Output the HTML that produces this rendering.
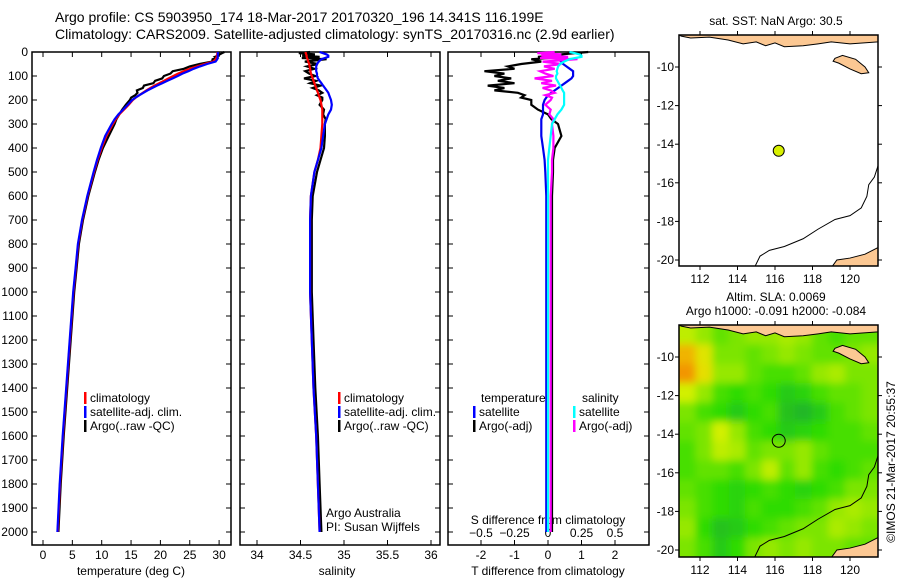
<!DOCTYPE html>
<html><head><meta charset="utf-8"><style>
html,body{margin:0;padding:0;background:#fff;}
svg text{font-family:"Liberation Sans",sans-serif;fill:#000;}
</style></head><body>
<svg id="c" width="900" height="580" xmlns="http://www.w3.org/2000/svg">
<defs>
<clipPath id="mapclip2"><rect x="679" y="325" width="199" height="232"/></clipPath>
<clipPath id="mapclip1"><rect x="679" y="35" width="199" height="231"/></clipPath>
<filter id="blur" x="-5%" y="-5%" width="110%" height="110%"><feGaussianBlur stdDeviation="4"/></filter>
</defs>
<text x="55" y="22" font-size="14">Argo profile: CS 5903950_174 18-Mar-2017 20170320_196 14.341S 116.199E</text>
<text x="55" y="39" font-size="14">Climatology: CARS2009. Satellite-adjusted climatology: synTS_20170316.nc (2.9d earlier)</text>
<text x="776" y="25" font-size="12" text-anchor="middle">sat. SST: NaN Argo: 30.5</text>
<text x="776" y="301" font-size="12" text-anchor="middle">Altim. SLA: 0.0069</text>
<text x="776" y="315" font-size="12" text-anchor="middle">Argo h1000: -0.091 h2000: -0.084</text>
<text transform="translate(895,462) rotate(-90)" font-size="12" text-anchor="middle">©IMOS 21-Mar-2017 20:55:37</text>
<g id="g"></g>
</svg>
<script>
// ---- profile data (common depth grid) ----
const depths=[0,5,10,15,20,25,30,40,50,60,70,80,90,100,110,120,130,140,150,160,170,180,190,200,220,240,260,280,300,350,400,450,500,600,700,800,900,1000,1200,1400,1600,1800,2000];
const climT=[29.7,29.7,29.7,29.6,29.6,29.5,29.4,29.0,27.5,26.2,25.0,24.0,23.0,22.2,21.4,20.6,19.8,19.0,18.3,17.6,17.0,16.4,15.8,15.3,14.6,13.8,13.0,12.4,11.9,10.8,10.0,9.3,8.7,7.6,6.7,6.0,5.6,5.2,4.6,4.0,3.4,2.9,2.5];
const satT=[29.76,29.8,29.8,29.75,29.8,29.75,29.7,29.4,27.95,26.75,25.65,24.75,23.75,22.95,22.1,21.2,20.3,19.4,18.6,17.8,17.1,16.4,15.75,15.2,14.45,13.65,12.85,12.2,11.7,10.6,9.85,9.2,8.62,7.55,6.65,5.95,5.55,5.15,4.55,3.95,3.35,2.85,2.45];
const argoT=[30.9,30.5,30.1,29.8,29.3,29.6,28.9,28.8,26.7,25.0,24.0,22.1,21.7,20.6,20.3,19.1,18.8,17.2,17.0,16.0,16.1,15.7,15.0,14.8,14.1,13.5,13.0,12.5,12.2,11.2,10.2,9.45,8.85,7.72,6.82,6.12,5.72,5.32,4.72,4.12,3.52,3.02,2.62];
const climS=[34.56,34.56,34.565,34.57,34.57,34.575,34.58,34.59,34.6,34.605,34.61,34.615,34.62,34.63,34.64,34.65,34.66,34.67,34.68,34.69,34.7,34.71,34.72,34.73,34.74,34.75,34.75,34.75,34.75,34.74,34.73,34.7,34.66,34.62,34.61,34.61,34.61,34.61,34.63,34.65,34.68,34.7,34.72];
const satS=[34.72,34.76,34.8,34.82,34.82,34.78,34.74,34.71,34.69,34.68,34.68,34.68,34.69,34.69,34.7,34.72,34.74,34.76,34.78,34.8,34.82,34.83,34.84,34.85,34.86,34.85,34.82,34.8,34.78,34.76,34.74,34.7,34.66,34.62,34.61,34.61,34.61,34.61,34.63,34.65,34.68,34.7,34.72];
const argoS=[34.61,34.48,34.665,34.52,34.72,34.515,34.8,34.55,34.7,34.575,34.66,34.555,34.6,34.67,34.54,34.68,34.61,34.73,34.64,34.71,34.75,34.69,34.75,34.75,34.72,34.77,34.76,34.79,34.78,34.78,34.77,34.73,34.69,34.64,34.63,34.63,34.63,34.63,34.65,34.67,34.7,34.72,34.74];
const depthTicks=[0,100,200,300,400,500,600,700,800,900,1000,1100,1200,1300,1400,1500,1600,1700,1800,1900,2000];
const tempTicks=[0,5,10,15,20,25,30];
const salTicks=[34,34.5,35,35.5,36];
const tdiffTicks=[-2,-1,0,1,2];
const sdiffTicks=[-0.5,-0.25,0,0.25,0.5];
// ---- map data ----
const lonTicks=[112,114,116,118,120];
const latTicks=[-10,-12,-14,-16,-18,-20];
const argoLon=116.199, argoLat=-14.341;
const slaGrid=[
[0.6,0.5,0.4,0.45,0.5,0.5,0.55,0.5,0.4,0.35,0.4,0.4],
[0.88,0.72,0.45,0.45,0.4,0.45,0.5,0.45,0.4,0.4,0.45,0.5],
[0.95,0.75,0.5,0.5,0.4,0.35,0.35,0.4,0.5,0.55,0.45,0.45],
[0.65,0.5,0.35,0.3,0.35,0.3,0.2,0.25,0.35,0.4,0.4,0.45],
[0.45,0.35,0.3,0.2,0.3,0.35,0.15,0.1,0.2,0.35,0.4,0.45],
[0.4,0.45,0.65,0.5,0.35,0.3,0.2,0.25,0.3,0.35,0.35,0.4],
[0.35,0.45,0.6,0.55,0.4,0.45,0.45,0.5,0.4,0.35,0.35,0.35],
[0.35,0.4,0.4,0.35,0.45,0.6,0.4,0.5,0.35,0.3,0.35,0.4],
[0.4,0.35,0.3,0.25,0.3,0.35,0.3,0.25,0.3,0.35,0.45,0.45],
[0.45,0.35,0.3,0.25,0.35,0.3,0.3,0.35,0.4,0.5,0.55,0.5],
[0.5,0.3,0.15,0.2,0.3,0.35,0.4,0.45,0.45,0.55,0.5,0.45],
[0.45,0.35,0.2,0.3,0.45,0.5,0.45,0.5,0.45,0.45,0.4,0.4]];
const landTop=[[110.8,-8.3],[111,-8.4],[111.5,-8.5],[112.5,-8.45],[113.5,-8.6],[114.3,-8.8],[115,-8.7],[115.5,-8.9],[116,-8.75],[116.5,-8.95],[117.5,-8.9],[118.3,-8.8],[119,-8.7],[120,-8.8],[121.5,-8.7],[121.5,-8.3]];
const landSumba=[[119.2,-9.55],[119.6,-9.4],[120.3,-9.6],[120.8,-10.0],[121.0,-10.3],[120.6,-10.35],[120.0,-10.1],[119.4,-9.8],[119.1,-9.7]];
const landAus=[[119,-20.4],[119.3,-20.0],[120,-19.9],[120.8,-19.7],[121.5,-19.35],[121.5,-20.4]];
const contour=[[121.5,-15.1],[121.3,-15.7],[121.0,-16.1],[120.9,-16.7],[120.6,-17.3],[120.0,-17.7],[119.2,-17.9],[118.3,-18.4],[117.5,-18.9],[116.5,-19.3],[115.7,-19.5],[115.2,-19.8],[114.9,-20.4]];

const NS='http://www.w3.org/2000/svg';
const G=document.getElementById('g');
function mk(tag,attrs,parent){const e=document.createElementNS(NS,tag);for(const k in attrs)e.setAttribute(k,attrs[k]);(parent||G).appendChild(e);return e;}
function txt(x,y,s,size,anchor,parent){const t=mk('text',{x:x,y:y,'font-size':size||12,'text-anchor':anchor||'start'},parent);t.textContent=s;return t;}

const yD=d=>52+d*0.24;
const xT=t=>43+t*5.87;
const xS=s=>257+(s-34)*87;
const xTd=t=>548+t*33.5;
const xSd=s=>548+s*134;
const panels=[[32,231,'temp-panel'],[240,440,'salinity-panel'],[448,649,'difference-panel']];
const PT=52,PB=545;

panels.forEach(p=>{
  const r=mk('rect',{x:p[0],y:PT,width:p[1]-p[0],height:PB-PT,fill:'none',stroke:'#000','stroke-width':1.5});
  
  
  depthTicks.forEach(d=>{
    mk('line',{x1:p[0],x2:p[0]+5,y1:yD(d),y2:yD(d),stroke:'#000'});
    mk('line',{x1:p[1]-5,x2:p[1],y1:yD(d),y2:yD(d),stroke:'#000'});
  });
});
depthTicks.forEach(d=>{
  const t=txt(28,yD(d)+4,String(d),12,'end');
  
  
});
function xticks(vals,fx,labels,ly,pname){
  vals.forEach((v,i)=>{
    mk('line',{x1:fx(v),x2:fx(v),y1:PB,y2:PB-5,stroke:'#000'});
    mk('line',{x1:fx(v),x2:fx(v),y1:PT,y2:PT+5,stroke:'#000'});
    const t=txt(fx(v),ly,labels[i],12,'middle');
    
    
  });
}
xticks(tempTicks,xT,tempTicks.map(String),559,'temp');
xticks(salTicks,xS,salTicks.map(String),559,'salinity');
xticks(tdiffTicks,xTd,tdiffTicks.map(String),559,'tdiff');
sdiffTicks.forEach(v=>{
  mk('line',{x1:xSd(v),x2:xSd(v),y1:PB,y2:PB-5,stroke:'#000'});
  const t=txt(xSd(v),537,String(v).replace('-','\u2212'),12,'middle');
  
  
});
let a=txt(131,575,'temperature (deg C)',12,'middle');
a=txt(337,575,'salinity',12,'middle');
a=txt(548,575,'T difference from climatology',12,'middle');
a=txt(548,524,'S difference from climatology',12,'middle');

function line(vals,fx,color,name){
  const pts=vals.map((v,i)=>fx(v).toFixed(1)+','+yD(depths[i]).toFixed(1)).join(' ');
  const l=mk('polyline',{points:pts,fill:'none',stroke:color,'stroke-width':2.2,'stroke-linejoin':'miter'});
  
  
}
line(argoT,xT,'#000','argo-temp-line');
line(climT,xT,'#f00','clim-temp-line');
line(satT,xT,'#00f','sat-temp-line');
line(argoS,xS,'#000','argo-salinity-line');
line(climS,xS,'#f00','clim-salinity-line');
line(satS,xS,'#00f','sat-salinity-line');
line(argoT.map((v,i)=>v-climT[i]),xTd,'#000','argo-tdiff-line');
line(satT.map((v,i)=>v-climT[i]),xTd,'#0000ee','sat-tdiff-line');
line(argoS.map((v,i)=>v-climS[i]),xSd,'#f0f','argo-sdiff-line');
line(satS.map((v,i)=>v-climS[i]),xSd,'#0ff','sat-sdiff-line');

function legend(x,y,color,label){
  const r=mk('rect',{x:x,y:y-10,width:2.5,height:12,fill:color});
  
  
  const t=txt(x+6,y,label,12);
  
  
}
[[84,'climatology','#f00',402],[84,'satellite-adj. clim.','#00f',416],[84,'Argo(..raw -QC)','#000',430],
 [338,'climatology','#f00',402],[338,'satellite-adj. clim.','#00f',416],[338,'Argo(..raw -QC)','#000',430]]
 .forEach(e=>legend(e[0],e[3],e[2],e[1]));
a=txt(481,402,'temperature',12);
a=txt(582,402,'salinity',12);
legend(473,416,'#00f','satellite');legend(473,430,'#000','Argo(-adj)');
legend(573,416,'#0ff','satellite');legend(573,430,'#f0f','Argo(-adj)');
a=txt(326,517,'Argo Australia',12);
a=txt(326,531,'PI: Susan Wijffels',12);

// ---- maps ----
const xL=lon=>700+(lon-112)*18.75;
function makeMap(top,left,right,bottom,lat10y,clipId,isSla){
  const yL=lat=>lat10y+(-10-lat)*19.3;
  const grp=mk('g',{'clip-path':'url(#'+clipId+')'});
  
  
  if(isSla){
    const hg=mk('g',{filter:'url(#blur)'},grp);
    const nr=slaGrid.length,nc=slaGrid[0].length;
    const cw=(right-left)/nc,ch=(bottom-top)/nr;
    const stops=[[0,[30,165,60]],[0.3,[45,220,0]],[0.5,[150,232,0]],[0.65,[210,240,0]],[0.8,[238,215,0]],[0.95,[242,150,0]]];
    const col=v=>{for(let i=1;i<stops.length;i++){if(v<=stops[i][0]||i==stops.length-1){const a=stops[i-1],b=stops[i];let f=(v-a[0])/(b[0]-a[0]);f=Math.max(0,Math.min(1,f));return 'rgb('+a[1].map((c,k)=>Math.round(c+(b[1][k]-c)*f)).join(',')+')';}}};
    for(let r=-1;r<=nr;r++)for(let c=-1;c<=nc;c++){
      const rr=Math.max(0,Math.min(nr-1,r)),cc=Math.max(0,Math.min(nc-1,c));
      const cell=mk('rect',{x:left+c*cw,y:top+r*ch,width:cw+0.6,height:ch+0.6,fill:col(slaGrid[rr][cc])},hg);
      
      
    }
  }
  [landTop,landSumba,landAus].forEach(poly=>{
    const p=mk('polygon',{points:poly.map(q=>xL(q[0])+','+yL(q[1])).join(' '),fill:'#fcc893',stroke:'#000','stroke-width':1},grp);
    
    
  });
  const c=mk('polyline',{points:contour.map(q=>xL(q[0])+','+yL(q[1])).join(' '),fill:'none',stroke:'#000','stroke-width':1},grp);
  
  
  const f=mk('rect',{x:left,y:top,width:right-left,height:bottom-top,fill:'none',stroke:'#000','stroke-width':1.5});
  
  
  lonTicks.forEach(l=>{
    mk('line',{x1:xL(l),x2:xL(l),y1:top,y2:top-4,stroke:'#000'});
    mk('line',{x1:xL(l),x2:xL(l),y1:bottom,y2:bottom+4,stroke:'#000'});
    const t=txt(xL(l),bottom+17,String(l),12,'middle');
    
    
  });
  latTicks.forEach(l=>{
    mk('line',{x1:left,x2:left-4,y1:yL(l),y2:yL(l),stroke:'#000'});
    mk('line',{x1:right,x2:right+4,y1:yL(l),y2:yL(l),stroke:'#000'});
    const t=txt(left-5,yL(l)+4,String(l),12,'end');
    
    
  });
  const d=mk('circle',{cx:xL(argoLon),cy:yL(argoLat),r:isSla?6.5:5.5,fill:isSla?'none':'#d8f000',stroke:'#000','stroke-width':1});
  
  
}
makeMap(35,679,878,266,67,'mapclip1',false);
makeMap(325,679,878,557,357,'mapclip2',true);
</script>
</body></html>
